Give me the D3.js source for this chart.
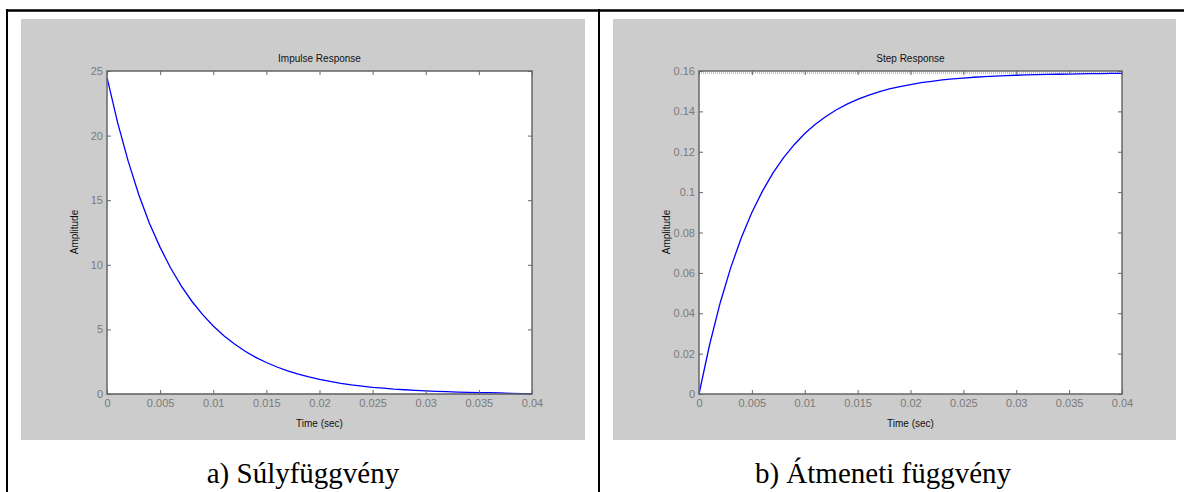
<!DOCTYPE html>
<html>
<head>
<meta charset="utf-8">
<script src="https://cdn.jsdelivr.net/npm/d3@7"></script>
<style>
body { margin: 0; background: #fff; }
svg { display: block; }
</style>
</head>
<body>
<script>
// time samples (sec)
var time = [0, 0.001, 0.002, 0.003, 0.004, 0.005, 0.006, 0.007, 0.008, 0.009,
            0.010, 0.011, 0.012, 0.013, 0.014, 0.015, 0.016, 0.017, 0.018, 0.019,
            0.020, 0.021, 0.022, 0.023, 0.024, 0.025, 0.026, 0.027, 0.028, 0.029,
            0.030, 0.031, 0.032, 0.033, 0.034, 0.035, 0.036, 0.037, 0.038, 0.039, 0.040]

var impulse = [24.5, 21.0, 18.0, 15.4, 13.2, 11.35, 9.73, 8.35, 7.16, 6.14,
               5.26, 4.51, 3.87, 3.31, 2.84, 2.44, 2.09, 1.79, 1.54, 1.32,
               1.13, 0.97, 0.83, 0.71, 0.61, 0.52, 0.45, 0.38, 0.33, 0.28,
               0.24, 0.21, 0.18, 0.15, 0.13, 0.11, 0.10, 0.08, 0.05, 0.03, 0.02]

var step = [0, 0.0244, 0.0451, 0.0626, 0.0774, 0.0899, 0.1005, 0.1095, 0.1171, 0.1235,
            0.1290, 0.1336, 0.1375, 0.1408, 0.1436, 0.1459, 0.1479, 0.1497, 0.1511, 0.1523,
            0.1533, 0.1542, 0.1549, 0.1556, 0.1561, 0.1565, 0.1569, 0.1572, 0.1575, 0.1577,
            0.1579, 0.1581, 0.1582, 0.1583, 0.1584, 0.1585, 0.1586, 0.1587, 0.1587, 0.1588, 0.1588]

var time_ticks = [0, 0.005, 0.01, 0.015, 0.02, 0.025, 0.03, 0.035, 0.04]
var impulse_ticks = [0, 5, 10, 15, 20, 25]
var step_ticks = [0, 0.02, 0.04, 0.06, 0.08, 0.1, 0.12, 0.14, 0.16]
var impulse_final = 0
var step_final = 0.159

var w = 1184
var h = 492

var svg = d3.select("body")
            .append("svg")
            .attr("width", w)
            .attr("height", h)

function fmt(d) {
    return String(+d.toFixed(4))
}

function draw_panel(opt) {
    var g = svg.append("g")

    // gray figure background
    g.append("rect")
        .attr("x", opt.bx).attr("y", 19)
        .attr("width", opt.bw).attr("height", 421)
        .attr("fill", "#cccccc")

    var x = d3.scaleLinear().domain([0, 0.04]).range([opt.px0, opt.px1])
    var y = d3.scaleLinear().domain(opt.ydomain).range([394, 71])

    g.append("rect")
        .attr("x", opt.px0).attr("y", 71)
        .attr("width", opt.px1 - opt.px0).attr("height", 394 - 71)
        .attr("fill", "white")

    // steady state dotted line
    g.append("line")
        .attr("x1", x(0)).attr("x2", x(0.04))
        .attr("y1", y(opt.final)).attr("y2", y(opt.final))
        .attr("stroke", "#888").attr("stroke-width", 1)
        .attr("stroke-dasharray", "1,1")

    var line = d3.line()
                .x(function(d, i) { return x(time[i]) })
                .y(function(d) { return y(d) })

    g.append("path")
        .datum(opt.values)
        .attr("d", line)
        .attr("fill", "none")
        .attr("stroke", "#0000ff")
        .attr("stroke-width", 1.3)

    var axes = [
        [d3.axisBottom(x).tickValues(time_ticks).tickFormat(fmt).tickPadding(5), "translate(0,394)"],
        [d3.axisTop(x).tickValues(time_ticks).tickFormat(""), "translate(0,71)"],
        [d3.axisLeft(y).tickValues(opt.yticks).tickFormat(fmt).tickPadding(4), "translate(" + opt.px0 + ",0)"],
        [d3.axisRight(y).tickValues(opt.yticks).tickFormat(""), "translate(" + opt.px1 + ",0)"]
    ]
    axes.forEach(function(a) {
        var ax = g.append("g")
                .attr("transform", a[1])
                .call(a[0].tickSizeInner(-4).tickSizeOuter(0))
        ax.select(".domain").remove()
        ax.selectAll("line").attr("stroke", "#666")
        ax.selectAll("text")
            .attr("fill", "#7a7a7a")
            .style("font-family", "'Liberation Sans', Arial, sans-serif")
            .style("font-size", "11px")
    })

    // frame
    g.append("rect")
        .attr("x", opt.px0).attr("y", 71)
        .attr("width", opt.px1 - opt.px0).attr("height", 394 - 71)
        .attr("fill", "none")
        .attr("stroke", "#666")
        .attr("stroke-width", 1.5)

    var cx = (opt.px0 + opt.px1) / 2
    var label_font = "'Liberation Sans', Arial, sans-serif"

    g.append("text")
        .attr("x", cx).attr("y", 62)
        .attr("text-anchor", "middle")
        .style("font-family", label_font).style("font-size", "10px")
        .attr("fill", "#111")
        .text(opt.title)

    g.append("text")
        .attr("x", cx).attr("y", 427)
        .attr("text-anchor", "middle")
        .style("font-family", label_font).style("font-size", "10px")
        .attr("fill", "#111")
        .text("Time (sec)")

    g.append("text")
        .attr("transform", "translate(" + (opt.px0 - 29) + ",232) rotate(-90)")
        .attr("text-anchor", "middle")
        .style("font-family", label_font).style("font-size", "10px")
        .attr("fill", "#111")
        .text("Amplitude")

    svg.append("text")
        .attr("x", opt.capx).attr("y", 483)
        .attr("text-anchor", "middle")
        .style("font-family", "'Liberation Serif', 'Times New Roman', serif")
        .style("font-size", "29px")
        .attr("fill", "#000")
        .text(opt.caption)
}

draw_panel({
    bx: 21, bw: 564, px0: 107, px1: 532,
    ydomain: [0, 25], yticks: impulse_ticks, values: impulse, final: impulse_final,
    title: "Impulse Response", caption: "a) Súlyfüggvény", capx: 303
})

draw_panel({
    bx: 613, bw: 563, px0: 699, px1: 1122,
    ydomain: [0, 0.16], yticks: step_ticks, values: step, final: step_final,
    title: "Step Response", caption: "b) Átmeneti függvény", capx: 883
})

// table borders
svg.append("line")
    .attr("x1", 6).attr("x2", w).attr("y1", 10.5).attr("y2", 10.5)
    .attr("stroke", "black").attr("stroke-width", 2.5)
svg.append("line")
    .attr("x1", 7).attr("x2", 7).attr("y1", 9).attr("y2", h)
    .attr("stroke", "black").attr("stroke-width", 2)
svg.append("line")
    .attr("x1", 599).attr("x2", 599).attr("y1", 9).attr("y2", h)
    .attr("stroke", "black").attr("stroke-width", 2)
</script>
</body>
</html>
